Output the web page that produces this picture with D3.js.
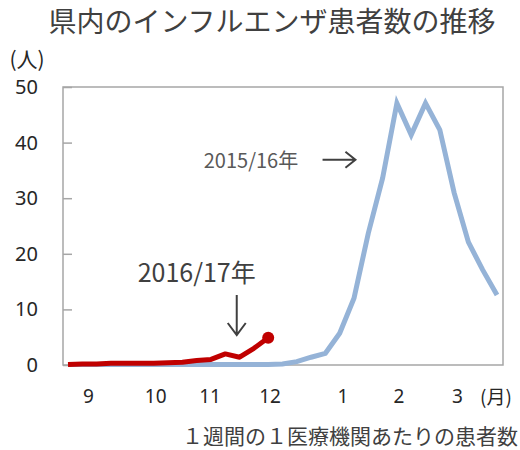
<!DOCTYPE html>
<html>
<head>
<meta charset="utf-8">
<script src="https://cdn.jsdelivr.net/npm/d3@7"></script>
<style>
  body { margin: 0; background: #fff; }
  text { font-family: "Noto Sans CJK JP", "Noto Sans", sans-serif; }
</style>
</head>
<body>
<div id="chart"></div>
<script>
// weekly values, week index 0 = early September
const season1516 = [0.1, 0.1, 0.1, 0.1, 0.1, 0.1, 0.1, 0.1, 0.1, 0.1, 0.1, 0.1, 0.1, 0.1, 0.1,
    0.2, 0.6, 1.4, 2.1, 5.7, 12.0, 23.7, 33.6, 47.1, 41.4, 47.1, 42.3, 31.0, 22.1, 17.1, 12.6];
const season1617 = [0.1, 0.2, 0.2, 0.3, 0.3, 0.3, 0.3, 0.4, 0.5, 0.8, 1.0, 2.0, 1.4, 3.0, 4.9];
const monthLabels = ["9", "10", "11", "12", "1", "2", "3"];
const monthPos = [1.4, 6.1, 9.9, 14.1, 19.2, 23.1, 27.2];
const yTicks = [0, 10, 20, 30, 40, 50];

const width = 520, height = 450;
const svg = d3.select("#chart").append("svg")
    .attr("width", width)
    .attr("height", height);

const x = d3.scaleLinear().domain([0, 30]).range([68, 497]);
const y = d3.scaleLinear().domain([0, 50]).range([365, 87]);

// title
svg.append("text")
    .attr("x", 272)
    .attr("y", 32)
    .attr("text-anchor", "middle")
    .attr("fill", "#404040")
    .style("font-size", "28px")
    .text("県内のインフルエンザ患者数の推移");

// plot frame
svg.append("rect")
    .attr("x", 63)
    .attr("y", y(50))
    .attr("width", 503 - 63)
    .attr("height", y(0) - y(50))
    .attr("fill", "none")
    .attr("stroke", "#a6a6a6")
    .attr("stroke-width", 1.5);

// y axis
const yAxis = svg.append("g")
    .attr("transform", "translate(63,0)")
    .call(d3.axisLeft(y).tickValues(yTicks).tickSize(-9).tickPadding(25));
yAxis.select(".domain").remove();
yAxis.selectAll("line").attr("stroke", "#a6a6a6").attr("stroke-width", 1.5);
yAxis.selectAll("text")
    .attr("fill", "#262626")
    .style("font-size", "20px")
    .style("font-family", "'Noto Sans', 'Noto Sans CJK JP', sans-serif");

svg.append("text")
    .attr("x", 27)
    .attr("y", 67)
    .attr("text-anchor", "middle")
    .attr("fill", "#262626")
    .style("font-size", "21px")
    .text("(人)");

// x axis (months)
const xAxis = svg.append("g")
    .attr("transform", "translate(0," + y(0) + ")")
    .call(d3.axisBottom(x).tickValues(monthPos)
        .tickFormat((d, i) => monthLabels[i]).tickSize(0).tickPadding(25));
xAxis.select(".domain").remove();
xAxis.selectAll("text")
    .attr("fill", "#262626")
    .style("font-size", "19px")
    .style("font-family", "'Noto Sans', 'Noto Sans CJK JP', sans-serif");

svg.append("text")
    .attr("x", 496)
    .attr("y", 404)
    .attr("text-anchor", "middle")
    .attr("fill", "#262626")
    .style("font-size", "19px")
    .text("(月)");

svg.append("text")
    .attr("x", 518)
    .attr("y", 444)
    .attr("text-anchor", "end")
    .attr("fill", "#404040")
    .style("font-size", "21px")
    .text("１週間の１医療機関あたりの患者数");

// lines
const line = d3.line()
    .x((d, i) => x(i))
    .y(d => y(d));

svg.append("path")
    .datum(season1516)
    .attr("fill", "none")
    .attr("stroke", "#95b3d7")
    .attr("stroke-width", 5)
    .attr("d", line);

svg.append("path")
    .datum(season1617)
    .attr("fill", "none")
    .attr("stroke", "#c00000")
    .attr("stroke-width", 5)
    .attr("stroke-linejoin", "round")
    .attr("d", line);

svg.append("circle")
    .attr("cx", x(season1617.length - 1))
    .attr("cy", y(season1617[season1617.length - 1]))
    .attr("r", 6)
    .attr("fill", "#c00000");

// annotations
const noteColor = "#404040";
svg.append("text")
    .attr("x", x(16.1))
    .attr("y", y(35.4))
    .attr("text-anchor", "end")
    .attr("fill", "#595959")
    .style("font-size", "20px")
    .text("2015/16年");

svg.append("path")
    .attr("d", `M${x(17.8)},${y(36.9)}H${x(20.1)}M${x(20.1) - 10},${y(36.9) - 8}L${x(20.1)},${y(36.9)}L${x(20.1) - 10},${y(36.9) + 8}`)
    .attr("fill", "none")
    .attr("stroke", noteColor)
    .attr("stroke-width", 2);

svg.append("text")
    .attr("x", x(9.0))
    .attr("y", y(14.9))
    .attr("text-anchor", "middle")
    .attr("fill", "#404040")
    .style("font-size", "25px")
    .text("2016/17年");

svg.append("path")
    .attr("d", `M${x(11.8)},${y(12.6)}V${y(5.4)}M${x(11.8) - 9},${y(5.4) - 12}L${x(11.8)},${y(5.4)}L${x(11.8) + 9},${y(5.4) - 12}`)
    .attr("fill", "none")
    .attr("stroke", noteColor)
    .attr("stroke-width", 2);
</script>
</body>
</html>
